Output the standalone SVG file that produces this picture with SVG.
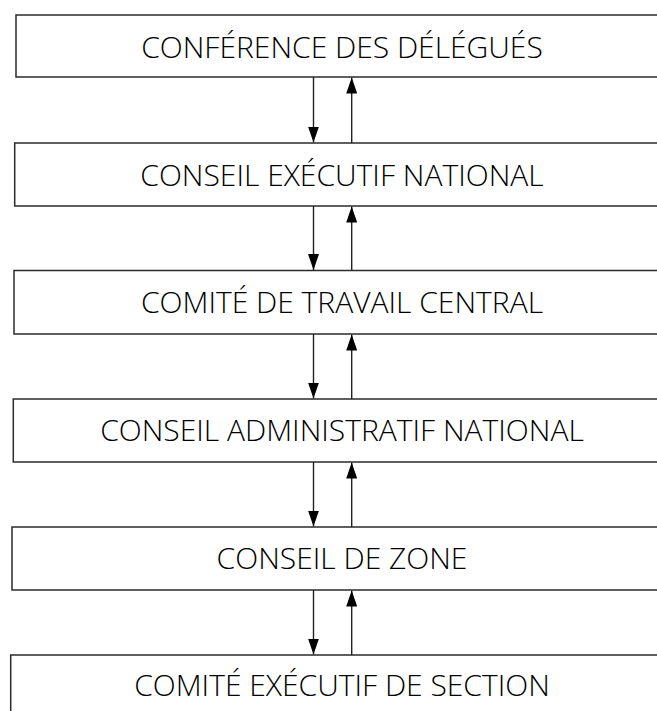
<svg xmlns="http://www.w3.org/2000/svg" width="657" height="711" viewBox="0 0 657 711">
<style>
.box{fill:#fff;stroke:#2b2b2b;stroke-width:1.5}
.lbl{font-family:"Open Sans","Noto Sans",sans-serif;font-size:30px;font-weight:300;fill:#000;text-anchor:middle}
.con{stroke:#222;stroke-width:1.4;fill:none}
</style>
<defs>
<marker id="ah" viewBox="0 0 16 11" refX="16" refY="5.5" markerWidth="16" markerHeight="11" markerUnits="userSpaceOnUse" orient="auto">
<path d="M0,0 L16,5.5 L0,11 z" fill="#000"/>
</marker>
</defs>
<rect width="657" height="711" fill="#fff"/>
<g id="n1"><rect class="box" x="16" y="15" width="660" height="62"/><text class="lbl" x="342" y="58">CONFÉRENCE DES DÉLÉGUÉS</text></g>
<g id="n2"><rect class="box" x="14.7" y="143" width="660" height="63"/><text class="lbl" x="342" y="186">CONSEIL EXÉCUTIF NATIONAL</text></g>
<g id="n3"><rect class="box" x="14" y="270.5" width="660" height="63.5"/><text class="lbl" x="342" y="313">COMITÉ DE TRAVAIL CENTRAL</text></g>
<g id="n4"><rect class="box" x="13.3" y="399" width="660" height="63"/><text class="lbl" x="342" y="441">CONSEIL ADMINISTRATIF NATIONAL</text></g>
<g id="n5"><rect class="box" x="12" y="527" width="660" height="63"/><text class="lbl" x="342" y="569">CONSEIL DE ZONE</text></g>
<g id="n6"><rect class="box" x="10.7" y="655" width="660" height="70"/><text class="lbl" x="342" y="696">COMITÉ EXÉCUTIF DE SECTION</text></g>
<g id="connectors">
<line class="con" x1="313.5" y1="77" x2="313.5" y2="142.5" marker-end="url(#ah)"/>
<line class="con" x1="351.7" y1="143" x2="351.7" y2="77.5" marker-end="url(#ah)"/>
<line class="con" x1="313.5" y1="206" x2="313.5" y2="270" marker-end="url(#ah)"/>
<line class="con" x1="351.7" y1="270.5" x2="351.7" y2="206.5" marker-end="url(#ah)"/>
<line class="con" x1="313.5" y1="334" x2="313.5" y2="398.5" marker-end="url(#ah)"/>
<line class="con" x1="351.7" y1="399" x2="351.7" y2="334.5" marker-end="url(#ah)"/>
<line class="con" x1="313.5" y1="462" x2="313.5" y2="526.5" marker-end="url(#ah)"/>
<line class="con" x1="351.7" y1="527" x2="351.7" y2="462.5" marker-end="url(#ah)"/>
<line class="con" x1="313.5" y1="590" x2="313.5" y2="654.5" marker-end="url(#ah)"/>
<line class="con" x1="351.7" y1="655" x2="351.7" y2="590.5" marker-end="url(#ah)"/>
</g>
</svg>
